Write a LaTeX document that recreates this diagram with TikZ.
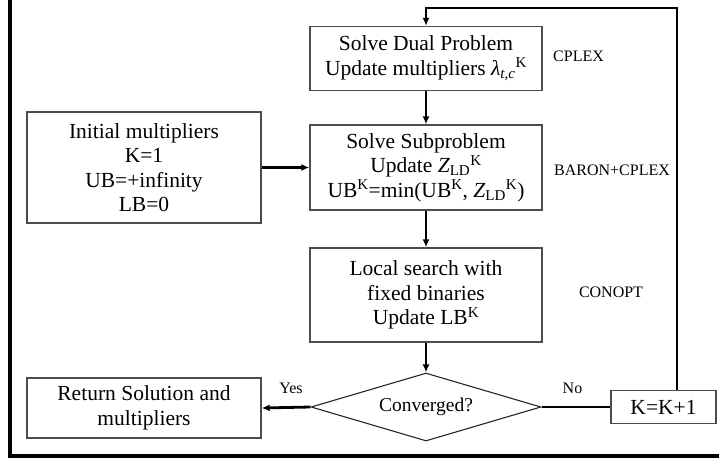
\documentclass[tikz,border=0pt]{standalone}
\usepackage{fontspec}
\setmainfont{Liberation Serif}
\usetikzlibrary{arrows.meta,shapes.geometric}
\begin{document}
\begin{tikzpicture}[x=1pt,y=-1pt,
  procbox/.style={draw=black!70,line width=1.4pt,fill=white,align=center,inner sep=0pt,font=\fontsize{21.5}{24.5}\selectfont},
  tool/.style={font=\fontsize{16}{18}\selectfont,inner sep=0pt},
  flow/.style={line width=2.8pt,-{Latex[length=8pt,width=7pt]}},
  link/.style={line width=2.8pt}]
\useasboundingbox (0,0) rectangle (719,461);
% outer frame (cropped)
\draw[line width=3.2pt] (10,-2) -- (10,456) -- (722,456);
% nodes
\node[procbox,minimum width=232pt,minimum height=64pt] (dual) at (426,58.5)
  {Solve Dual Problem\\Update multipliers {\itshape λ}\textsubscript{\itshape t,c}\textsuperscript{K}};
\node[procbox,minimum width=232pt,minimum height=85pt] (sub) at (426,167.5)
  {Solve Subproblem\\Update {\itshape Z}\textsubscript{LD}\textsuperscript{K}\\UB\textsuperscript{K}=min(UB\textsuperscript{K}, {\itshape Z}\textsubscript{LD}\textsuperscript{K})};
\node[procbox,minimum width=234pt,minimum height=111pt] (init) at (144,167.5)
  {Initial multipliers\\K=1\\UB=+infinity\\LB=0};
\node[procbox,minimum width=232pt,minimum height=94pt] (local) at (426,295)
  {Local search with\\fixed binaries\\Update LB\textsuperscript{K}};
\node[procbox,diamond,aspect=3.4,minimum width=230pt,minimum height=68pt,font=\fontsize{19.5}{22}\selectfont,line width=1.1pt,draw=black!85] (conv) at (426,407) {Converged?};
\node[procbox,minimum width=234pt,minimum height=60pt] (ret) at (144,408)
  {Return Solution and\\multipliers};
\node[procbox,minimum width=105pt,minimum height=33pt] (kk) at (663.5,407) {K=K+1};
% tool labels
\node[tool,anchor=west] (cplex) at (553,56) {CPLEX};
\node[tool] (baron) at (612,170) {BARON+CPLEX};
\node[tool] (conopt) at (611,292) {CONOPT};
% connectors
\coordinate (tr) at (677,8);
\coordinate (tl) at (426,8);
\draw[flow] (dual.south) -- (sub.north);
\draw[flow] (init.east) -- (sub.west);
\draw[flow] (sub.south) -- (local.north);
\draw[flow] (local.south) -- (conv.north);
\draw[flow] (conv.west) -- node[above=12pt,tool,pos=0.4] (yes) {Yes} (ret.east);
\draw[link] (conv.east) -- node[above=12pt,tool,pos=0.45] (no) {No} (kk.west);
\draw[flow] (kk.north -| tr) -- (tr) -- (tl) -- (dual.north);
\end{tikzpicture}
\end{document}
